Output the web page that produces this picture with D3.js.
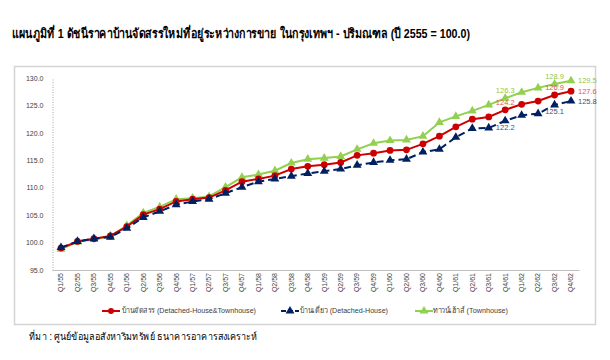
<!DOCTYPE html>
<html><head><meta charset="utf-8">
<script src="https://cdn.jsdelivr.net/npm/d3@7/dist/d3.min.js"></script>
<style>
html,body{margin:0;padding:0;background:#fff;}
svg{display:block;}
</style></head>
<body>
<svg id="chart" width="610" height="360"></svg>
<script>
const quarters = ["Q1/55","Q2/55","Q3/55","Q4/55","Q1/56","Q2/56","Q3/56","Q4/56",
"Q1/57","Q2/57","Q3/57","Q4/57","Q1/58","Q2/58","Q3/58","Q4/58",
"Q1/59","Q2/59","Q3/59","Q4/59","Q1/60","Q2/60","Q3/60","Q4/60",
"Q1/61","Q2/61","Q3/61","Q4/61","Q1/62","Q2/62","Q3/62","Q4/62"];

const allHousing = [99.0,100.2,100.7,101.2,102.9,105.1,106.1,107.5,107.9,108.2,109.5,111.1,111.6,112.2,113.4,113.9,
114.2,114.6,115.9,116.3,116.8,116.9,118.0,119.4,121.1,122.5,122.9,124.2,125.2,125.8,126.9,127.6];
const detached = [99.1,100.2,100.7,101.0,102.6,104.6,105.7,106.9,107.5,107.9,109.0,110.1,111.1,111.6,112.1,112.6,
113.0,113.4,114.1,114.6,115.0,115.2,116.5,117.0,119.2,120.8,120.9,122.2,123.2,123.5,125.1,125.8];
const townhouse = [98.8,100.1,100.6,101.2,103.1,105.4,106.5,107.9,108.1,108.4,110.1,111.9,112.4,113.1,114.5,115.2,
115.4,115.7,117.0,118.1,118.6,118.7,119.4,121.9,123.0,124.0,125.1,126.3,127.4,128.2,128.9,129.5];

const yTicks = [95,100,105,110,115,120,125,130];
const seriesNames = ["บ้านจัดสรร (Detached-House&Townhouse)","บ้านเดี่ยว (Detached-House)","ทาวน์เฮ้าส์ (Townhouse)"];
const titleText = "แผนภูมิที่ 1 ดัชนีราคาบ้านจัดสรรใหม่ที่อยู่ระหว่างการขาย ในกรุงเทพฯ - ปริมณฑล (ปี 2555 = 100.0)";
const sourceText = "ที่มา : ศูนย์ข้อมูลอสังหาริมทรัพย์ ธนาคารอาคารสงเคราะห์";
// labelled points: [series index, quarter index]
const labelled = [[0,27],[0,30],[0,31],[1,27],[1,30],[1,31],[2,27],[2,30],[2,31]];

const seriesData = [allHousing, detached, townhouse];
const colors = ["#CC0000","#002060","#92D050"];
const labelColors = ["#E05555","#3F4F75","#92C846"];

const svg = d3.select("#chart");
const font = "'Liberation Sans', Arial, sans-serif";

// title
svg.append("text").attr("x",12).attr("y",38)
  .attr("font-family",font).attr("font-weight","bold").attr("font-size",13)
  .attr("textLength",458).attr("lengthAdjust","spacingAndGlyphs")
  .attr("fill","#000").text(titleText);

// chart box
svg.append("rect").attr("x",14.5).attr("y",66.5).attr("width",581).attr("height",258)
  .attr("fill","#fff").attr("stroke","#d4d4d4").attr("stroke-width",1.5);

const x = d3.scalePoint().domain(quarters).range([61,571]);
const y = d3.scaleLinear().domain([95,130]).range([270,78]);

// y axis
const yAxis = d3.axisLeft(y).tickValues(yTicks).tickFormat(d3.format(".1f")).tickSize(0).tickPadding(9);
const gy = svg.append("g").attr("transform","translate(52.5,0)").call(yAxis);
gy.select(".domain").attr("stroke","#a6a6a6").attr("stroke-dasharray","1,1.5").attr("stroke-width",1);
gy.selectAll("text").attr("font-family",font).attr("font-size",7).attr("fill","#404040");

// x axis
const xAxis = d3.axisBottom(x).tickSize(0).tickPadding(0);
const gx = svg.append("g").attr("transform",`translate(0,${y(95)})`).call(xAxis);
gx.select(".domain").attr("d",`M52.5,0.5H579.5`).attr("stroke","#bfbfbf");
gx.selectAll("text")
  .attr("font-family",font).attr("font-size",7).attr("fill","#404040")
  .attr("text-anchor","end").attr("dy",null)
  .attr("transform","translate(0,3) rotate(-90)")
  .attr("x",0).attr("y",0).attr("dominant-baseline","middle");

const line = d3.line().x((d,i)=>x(quarters[i])).y(d=>y(d));
const tri = d3.symbol().type(d3.symbolTriangle).size(34);

const order = [2,0,1];
order.forEach(s=>{
  const g = svg.append("g");
  g.append("path").datum(seriesData[s]).attr("d",line).attr("fill","none")
    .attr("stroke",colors[s]).attr("stroke-width",2)
    .attr("stroke-dasharray", s===1 ? "7,4" : null);
  if(s===0){
    g.selectAll("circle").data(seriesData[s]).join("circle")
      .attr("cx",(d,i)=>x(quarters[i])).attr("cy",d=>y(d)).attr("r",3.4).attr("fill",colors[s]);
  } else {
    g.selectAll("path.m").data(seriesData[s]).join("path").attr("class","m")
      .attr("d",tri).attr("transform",(d,i)=>`translate(${x(quarters[i])},${y(d)})`).attr("fill",colors[s]);
  }
});

// data labels
labelled.forEach(([s,i])=>{
  const v = seriesData[s][i];
  let lx = x(quarters[i]), ly = y(v), anchor="middle";
  if(i===31){ lx += 7; anchor="start"; ly += 2.5; }
  else if(s===1){ ly += 9.5; }
  else { ly -= 5; }
  svg.append("text").attr("x",lx).attr("y",ly).attr("text-anchor",anchor)
    .attr("font-family",font).attr("font-size",7.5).attr("fill",labelColors[s])
    .text(d3.format(".1f")(v));
});

// legend
const legendItems = [
  {s:0, x:102, tx:122, w:134},
  {s:1, x:281, tx:300, w:88},
  {s:2, x:415, tx:433, w:75}
];
const ly = 311;
legendItems.forEach(it=>{
  const g = svg.append("g");
  g.append("line").attr("x1",it.x).attr("x2",it.x+18).attr("y1",ly).attr("y2",ly)
    .attr("stroke",colors[it.s]).attr("stroke-width",2)
    .attr("stroke-dasharray", it.s===1 ? "5,2" : null);
  if(it.s===0) g.append("circle").attr("cx",it.x+9).attr("cy",ly).attr("r",3).attr("fill",colors[0]);
  else g.append("path").attr("d",tri).attr("transform",`translate(${it.x+9},${ly})`).attr("fill",colors[it.s]);
  g.append("text").attr("x",it.tx).attr("y",ly).attr("dominant-baseline","middle")
    .attr("font-family",font).attr("font-size",8).attr("fill","#404040")
    .attr("textLength",it.w).attr("lengthAdjust","spacingAndGlyphs").text(seriesNames[it.s]);
});

// source
svg.append("text").attr("x",29).attr("y",340)
  .attr("font-family",font).attr("font-size",10).attr("fill","#000")
  .attr("textLength",228).attr("lengthAdjust","spacingAndGlyphs").text(sourceText);
</script>
</body></html>
